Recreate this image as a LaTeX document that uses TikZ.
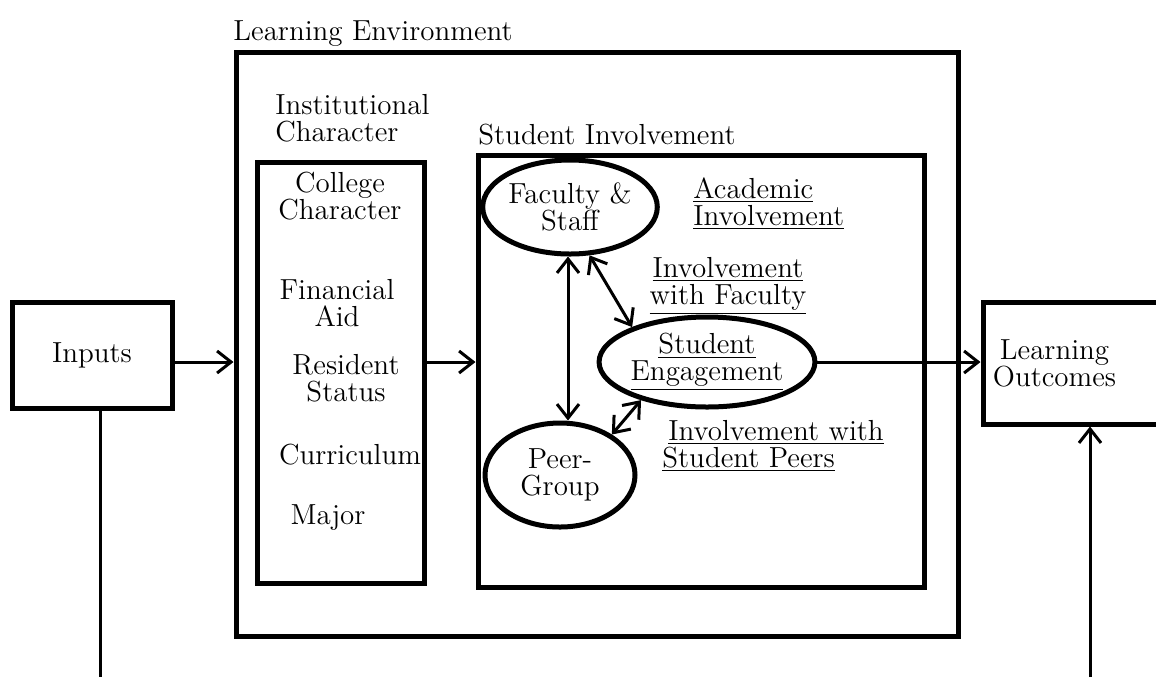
\documentclass[tikz,border=0pt]{standalone}
\usepackage{tikz}
\usetikzlibrary{arrows.meta, positioning, shapes.geometric}
\tikzset{
    frame/.style={rectangle, draw, line width=2.5pt, inner sep=0pt},
    oval/.style={ellipse, draw, line width=2.5pt, inner sep=0pt, align=center},
    item/.style={align=center, inner sep=0pt},
    heading/.style={align=left, inner sep=0pt},
    arrow/.style={line width=1.5pt, -{Straight Barb[length=7pt, width=11pt]}},
    dblarrow/.style={line width=1.5pt, {Straight Barb[length=7pt, width=11pt]}-{Straight Barb[length=7pt, width=11pt]}},
    plain/.style={line width=1.5pt}
}

\begin{document}
\begin{tikzpicture}[x=0.5pt, y=-0.5pt, font=\fontsize{14.5}{13.5}\selectfont]
        \clip (0,0) rectangle (1156,677);

        % Frames
        \node (env) [frame, minimum width=361pt, minimum height=292pt] at (597,344) {};
        \node (inst) [frame, minimum width=83.5pt, minimum height=210.5pt] at (340.5,372.5) {};
        \node (stud) [frame, minimum width=223pt, minimum height=216pt] at (701,371) {};
        \node (inputs) [frame, minimum width=80pt, minimum height=53pt] at (92,355) {Inputs};
        \node (lo) [frame, minimum width=97pt, minimum height=61pt] at (1080,363) {};
        \node (lo_text) [item, right=6pt of lo.west] {Learning\\Outcomes};

        % Headings
        \node (env_label) [heading, anchor=north west] at (233,20) {Learning Environment};
        \node (inst_label) [heading, anchor=north west] at (275,94) {Institutional\\Character};
        \node (stud_label) [heading, anchor=north west] at (478,124) {Student Involvement};

        % Institutional character items
        \node (college) [item] at (340,196) {College\\Character};
        \node (finaid) [item] at (337,303) {Financial\\Aid};
        \node (resident) [item] at (346,378) {Resident\\Status};
        \node (curric) [item] at (350,455) {Curriculum};
        \node (major) [item] at (328,518) {Major};

        % Student involvement
        \node (fac) [oval, minimum width=85pt, minimum height=47pt] at (570,207) {Faculty \&\\Staff};
        \node (eng) [oval, minimum width=104.5pt, minimum height=45pt] at (707,362) {\underline{Student}\\\underline{Engagement}};
        \node (peer) [oval, minimum width=75pt, minimum height=52pt] at (560,475) {Peer-\\Group};
        \node (academic) [heading, anchor=west] at (693,204) {\underline{Academic}\\\underline{Involvement}};
        \node (inv_fac) [item] at (728,286) {\underline{Involvement}\\\underline{with Faculty}};
        \node (inv_peer) [heading, anchor=west] at (662,446) {\hspace{3pt}\underline{Involvement with}\\\underline{Student Peers}};

        % Connectors
        \coordinate (in_end) at (100,677);
        \coordinate (lo_start) at (1090,677);
        \draw [arrow] (inputs.east |- eng.east) -- (env.west |- eng.east);
        \draw [arrow] (inst.east |- eng.east) -- (stud.west |- eng.east);
        \draw [arrow] (eng.east) -- (lo.west |- eng.east);
        \draw [plain] (in_end |- inputs.south) -- (in_end);
        \draw [arrow] (lo_start) -- (lo_start |- lo.south);
        \draw [dblarrow] (fac.south -| 568,0) -- (peer.north -| 568,0);
        \draw [dblarrow] (fac.-68) -- (eng.155);
        \draw [dblarrow] (peer.38) -- (eng.210);
    \end{tikzpicture}
\end{document}
